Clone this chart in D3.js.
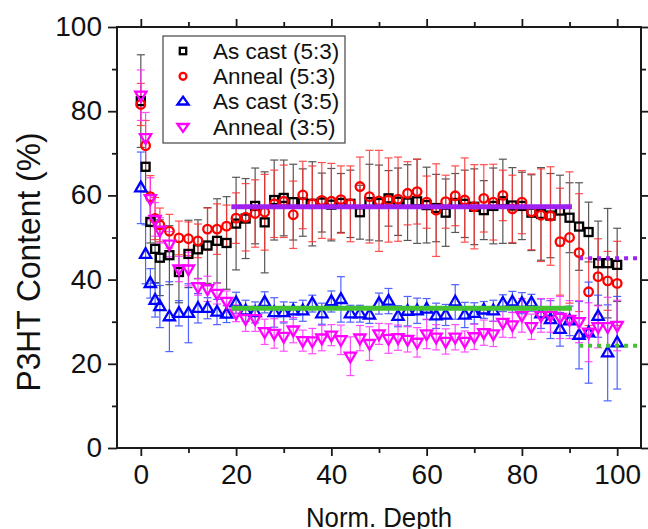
<!DOCTYPE html>
<html>
<head>
<meta charset="utf-8">
<script src="https://cdn.jsdelivr.net/npm/d3@7"></script>
<style>
	body { margin: 0; background: #fff; }
	svg { display: block; font-family: "Liberation Sans", Arial, sans-serif; }
</style>
</head>
<body>
<svg id="chart" width="648" height="529"></svg>
<script>

// Data
// ==============================================

var depth = [0, 1, 2, 3, 4,
	6, 8, 10, 12, 14, 16, 18, 20,
	22, 24, 26, 28, 30, 32, 34, 36,
	38, 40, 42, 44, 46, 48, 50, 52,
	54, 56, 58, 60, 62, 64, 66, 68,
	70, 72, 74, 76, 78, 80, 82, 84,
	86, 88, 90, 92, 94, 96, 98, 100];

var asCast53 = [82.4, 66.8, 53.7, 47.3, 45.2,
	45.8, 41.8, 46.1, 47.2, 48.1, 49.2, 48.7, 53.3,
	54.5, 57.5, 53.6, 58.9, 59.4, 58.4, 58.3, 58.0,
	58.3, 57.8, 58.2, 58.0, 56.0, 58.4, 58.2, 59.3,
	58.5, 58.3, 58.6, 57.7, 57.0, 55.9, 58.2, 58.0,
	57.3, 56.5, 57.5, 58.6, 57.6, 57.5, 55.9, 55.6,
	55.2, 56.4, 54.7, 52.6, 51.3, 43.9, 43.9, 43.5];
var asCast53Err = [11, 6, 5, 8, 9,
	7, 7.3, 8, 7, 9, 10, 11, 11,
	9.5, 9, 12, 9.5, 9, 9, 8, 10,
	7, 8.6, 7, 8, 6.4, 9, 9, 6.6,
	8, 9, 10, 9, 8, 8, 7, 8,
	9, 7, 9, 10, 9, 8, 9, 11,
	10, 8.4, 8.3, 10.4, 7.1, 10, 13, 8.7];

var anneal53 = [81.6, 71.8, 59.7, 54.5, 53.0,
	51.5, 49.9, 49.7, 49.2, 52.0, 52.0, 52.7, 54.6,
	54.8, 55.7, 56.0, 58.0, 58.6, 55.4, 60.1, 58.0,
	58.8, 58.6, 59.0, 58.0, 62.1, 59.7, 58.7, 58.9,
	59.1, 60.5, 60.9, 58.4, 56.5, 58.5, 59.9, 58.9,
	57.3, 59.3, 58.4, 60.0, 56.8, 58.4, 56.1, 55.3,
	55.1, 49.0, 50.0, 46.4, 37.1, 40.7, 39.7, 39.1];
var anneal53Err = [5, 6, 5, 5, 4,
	4, 4, 4, 4, 5, 6, 5, 6,
	8, 8, 9, 8, 8.6, 8, 8, 9,
	9, 9, 8, 9, 7, 11, 12, 10,
	10, 7.5, 7.7, 6.2, 11, 6.3, 7.1, 10,
	10, 8, 9, 6, 8, 7.5, 9, 11,
	11.7, 12.7, 15.6, 14, 8, 9, 7, 10];

var asCast35 = [61.8, 46.0, 39.1, 35.1, 33.6,
	31.2, 32.0, 32.0, 33.2, 33.2, 32.3, 31.8, 34.5,
	32.6, 32.2, 34.6, 32.2, 32.2, 32.6, 32.6, 34.3,
	31.9, 34.8, 35.3, 31.9, 31.9, 31.6, 34.3, 34.9,
	31.3, 32.5, 32.6, 33.0, 31.4, 31.6, 34.7, 31.6,
	32.0, 32.8, 32.6, 34.4, 34.7, 34.4, 34.5, 31.9,
	30.5, 28.2, 30.2, 26.8, 27.4, 31.3, 22.6, 25.0];
var asCast35Err = [8.5, 7, 3.5, 4, 5,
	8.3, 3, 7, 3.5, 2.5, 3, 2, 2.5,
	2.5, 2.5, 2.5, 3.5, 2.5, 2, 2.5, 2,
	2.5, 2.5, 5.4, 2, 2, 2, 2.5, 3,
	2.5, 3.5, 3, 2.5, 3, 2.5, 4.1, 3,
	2.5, 2, 2.5, 2, 2.5, 2.5, 2, 3.5,
	4.5, 4, 3.5, 8, 12, 5, 11.4, 11];

var anneal35 = [83.8, 73.7, 59.2, 54.3, 51.7,
	48.4, 42.5, 42.5, 38.3, 37.8, 36.7, 34.8, 32.0,
	30.7, 30.7, 27.6, 27.2, 26.5, 28.0, 25.5, 25.4,
	26.1, 26.8, 25.7, 21.8, 26.1, 24.8, 27.1, 26.0,
	26.2, 25.8, 25.1, 27.1, 26.3, 25.3, 26.3, 25.3,
	26.4, 27.4, 27.1, 29.8, 29.2, 31.5, 28.8, 31.5,
	31.5, 31.0, 30.5, 30.0, 27.5, 28.8, 28.8, 29.1];
var anneal35Err = [6, 6, 5, 4, 3,
	3, 3, 4, 2, 3, 2.5, 2.5, 2,
	3, 3, 3, 3.5, 3.5, 3, 2.5, 3,
	3, 2.5, 3.5, 4.6, 3, 4, 2.5, 3.5,
	3, 3, 3.5, 3.5, 3, 3, 3, 2.5,
	3, 3, 3, 3.5, 3, 4, 3, 4,
	4, 5, 4.5, 5, 7, 5, 7, 6];

// plateau averages: [start, end, level]
var plateau53 = [19, 90.5, 57.3];
var plateau35 = [19, 90.5, 33.2];
var tail53 = [92, 105, 45.1];
var tail35 = [92, 105, 24.3];

var xTicks = [0, 20, 40, 60, 80, 100];
var xMinor = [10, 30, 50, 70, 90];
var yTicks = [0, 20, 40, 60, 80, 100];
var yMinor = [10, 30, 50, 70, 90];

var series = [
	{ name: "As cast (5:3)", values: asCast53, err: asCast53Err, color: "#000000", bar: "#3a3a3a", symbol: "square" },
	{ name: "Anneal (5:3)", values: anneal53, err: anneal53Err, color: "#ff0000", bar: "#ff3030", symbol: "circle" },
	{ name: "As cast (3:5)", values: asCast35, err: asCast35Err, color: "#0000ff", bar: "#3048ff", symbol: "up" },
	{ name: "Anneal (3:5)", values: anneal35, err: anneal35Err, color: "#ff00ff", bar: "#ff30ff", symbol: "down" }
];

// Layout
// ==============================================

var svg = d3.select("#chart"),
	plotLeft = 117, plotRight = 641, plotTop = 27, plotBottom = 448;

var x = d3.scaleLinear().domain([-5, 105]).range([plotLeft, plotRight]);
var y = d3.scaleLinear().domain([0, 100]).range([plotBottom, plotTop]);

svg.append("clipPath").attr("id", "plot-clip")
	.append("rect")
		.attr("x", plotLeft).attr("y", plotTop)
		.attr("width", plotRight - plotLeft).attr("height", plotBottom - plotTop);

// Axes
// ==============================================

function styleAxis(dy){
	return function(g){
		g.select(".domain").remove();
		g.selectAll(".tick line").attr("stroke", "#1a1a1a").attr("stroke-width", 1.8);
		g.selectAll(".tick text").attr("fill", "#111").attr("dy", dy)
			.style("font-size", "28px")
			.style("font-family", "'Liberation Sans', Arial, sans-serif");
	};
}

function axisPair(axisFn, pos, scale, major, minor, labels){
	var big = (axisFn === d3.axisLeft || axisFn === d3.axisRight) ? 9 : 8;
	var dy = (axisFn === d3.axisBottom) ? "0.71em" : "0.30em";
	var main = axisFn(scale).tickValues(major).tickSize(big)
		.tickPadding(axisFn === d3.axisBottom ? 8 : 6);
	if (!labels) main.tickFormat("");
	svg.append("g").attr("transform", pos).call(main).call(styleAxis(dy));
	svg.append("g").attr("transform", pos)
		.call(axisFn(scale).tickValues(minor).tickSize(5).tickFormat(""))
		.call(styleAxis(dy));
}

axisPair(d3.axisBottom, "translate(0," + plotBottom + ")", x, xTicks, xMinor, true);
axisPair(d3.axisTop, "translate(0," + plotTop + ")", x, xTicks, xMinor, false);
axisPair(d3.axisLeft, "translate(" + plotLeft + ",0)", y, yTicks, yMinor, true);
axisPair(d3.axisRight, "translate(" + plotRight + ",0)", y, yTicks, yMinor, false);

// Titles
// ==============================================

svg.append("text")
	.attr("transform", "translate(40,262) rotate(-90)")
	.attr("text-anchor", "middle")
	.attr("textLength", 259).attr("lengthAdjust", "spacingAndGlyphs")
	.style("font-size", "34px").attr("fill", "#111")
	.text("P3HT Content (%)");

svg.append("text")
	.attr("x", (plotLeft + plotRight) / 2).attr("y", 527)
	.attr("text-anchor", "middle")
	.attr("textLength", 146).attr("lengthAdjust", "spacingAndGlyphs")
	.style("font-size", "28px").attr("fill", "#111")
	.text("Norm. Depth");

// Markers
// ==============================================

function marker(sel, type, color, k){
	k = k || 1;
	if (type === "square"){
		sel.append("rect").attr("x", -4 * k).attr("y", -4 * k).attr("width", 8 * k).attr("height", 8 * k)
			.attr("fill", "none").attr("stroke", color).attr("stroke-width", 2.3);
	} else if (type === "circle"){
		sel.append("circle").attr("r", 4.3 * k)
			.attr("fill", "none").attr("stroke", color).attr("stroke-width", 2.3);
	} else {
		var s = type === "up" ? k : -k;
		sel.append("path").attr("d", "M0," + (-6.2 * s) + "L5.6," + (3.6 * s) + "L-5.6," + (3.6 * s) + "Z")
			.attr("fill", "none").attr("stroke", color).attr("stroke-width", 2.3);
	}
}

var plot = svg.append("g").attr("clip-path", "url(#plot-clip)");

// Error bars
series.forEach(function(s){
	var pts = depth.map(function(d, i){ return { x: d, v: s.values[i], e: s.err[i] }; });
	var g = plot.append("g").attr("stroke", s.bar).attr("stroke-width", 1.2).attr("opacity", 0.85);
	var bars = g.selectAll("g").data(pts).enter().append("g");
	bars.append("line")
		.attr("x1", function(d){ return x(d.x); }).attr("x2", function(d){ return x(d.x); })
		.attr("y1", function(d){ return y(d.v - d.e); }).attr("y2", function(d){ return y(d.v + d.e); });
	bars.append("line")
		.attr("x1", function(d){ return x(d.x) - 4; }).attr("x2", function(d){ return x(d.x) + 4; })
		.attr("y1", function(d){ return y(d.v + d.e); }).attr("y2", function(d){ return y(d.v + d.e); });
	bars.append("line")
		.attr("x1", function(d){ return x(d.x) - 4; }).attr("x2", function(d){ return x(d.x) + 4; })
		.attr("y1", function(d){ return y(d.v - d.e); }).attr("y2", function(d){ return y(d.v - d.e); });
});

// Points
series.forEach(function(s){
	var pts = depth.map(function(d, i){ return { x: d, v: s.values[i] }; });
	plot.append("g").selectAll("g").data(pts).enter().append("g")
		.attr("transform", function(d){ return "translate(" + x(d.x) + "," + y(d.v) + ")"; })
		.each(function(){ marker(d3.select(this), s.symbol, s.color); });
});

// Plateau lines
// ==============================================

function level(p, color, dashed){
	plot.append("line")
		.attr("x1", x(p[0])).attr("x2", x(p[1]))
		.attr("y1", y(p[2])).attr("y2", y(p[2]))
		.attr("stroke", color).attr("stroke-width", dashed ? 4 : 5)
		.attr("stroke-dasharray", dashed ? "4,5" : null);
}

level(plateau53, "#a020f0", false);
level(plateau35, "#44c232", false);
level(tail53, "#a020f0", true);
level(tail35, "#44c232", true);

// Frame
svg.append("rect")
	.attr("x", plotLeft).attr("y", plotTop)
	.attr("width", plotRight - plotLeft).attr("height", plotBottom - plotTop)
	.attr("fill", "none").attr("stroke", "#1a1a1a").attr("stroke-width", 2);

// Legend
// ==============================================

var legend = svg.append("g");
legend.append("rect")
	.attr("x", 163).attr("y", 36).attr("width", 182).attr("height", 107)
	.attr("fill", "#fff").attr("stroke", "#444").attr("stroke-width", 1.2);

var rows = legend.selectAll("g.row").data(series).enter().append("g")
	.attr("class", "row")
	.attr("transform", function(d, i){ return "translate(0," + (51 + i * 25.3) + ")"; });

rows.append("g").attr("transform", "translate(183,0)")
	.each(function(d){ marker(d3.select(this), d.symbol, d.color, 0.8); });

rows.append("text")
	.attr("x", 213).attr("dy", "0.35em")
	.style("font-size", "22.5px").attr("fill", "#111")
	.text(function(d){ return d.name; });

</script>
</body>
</html>
